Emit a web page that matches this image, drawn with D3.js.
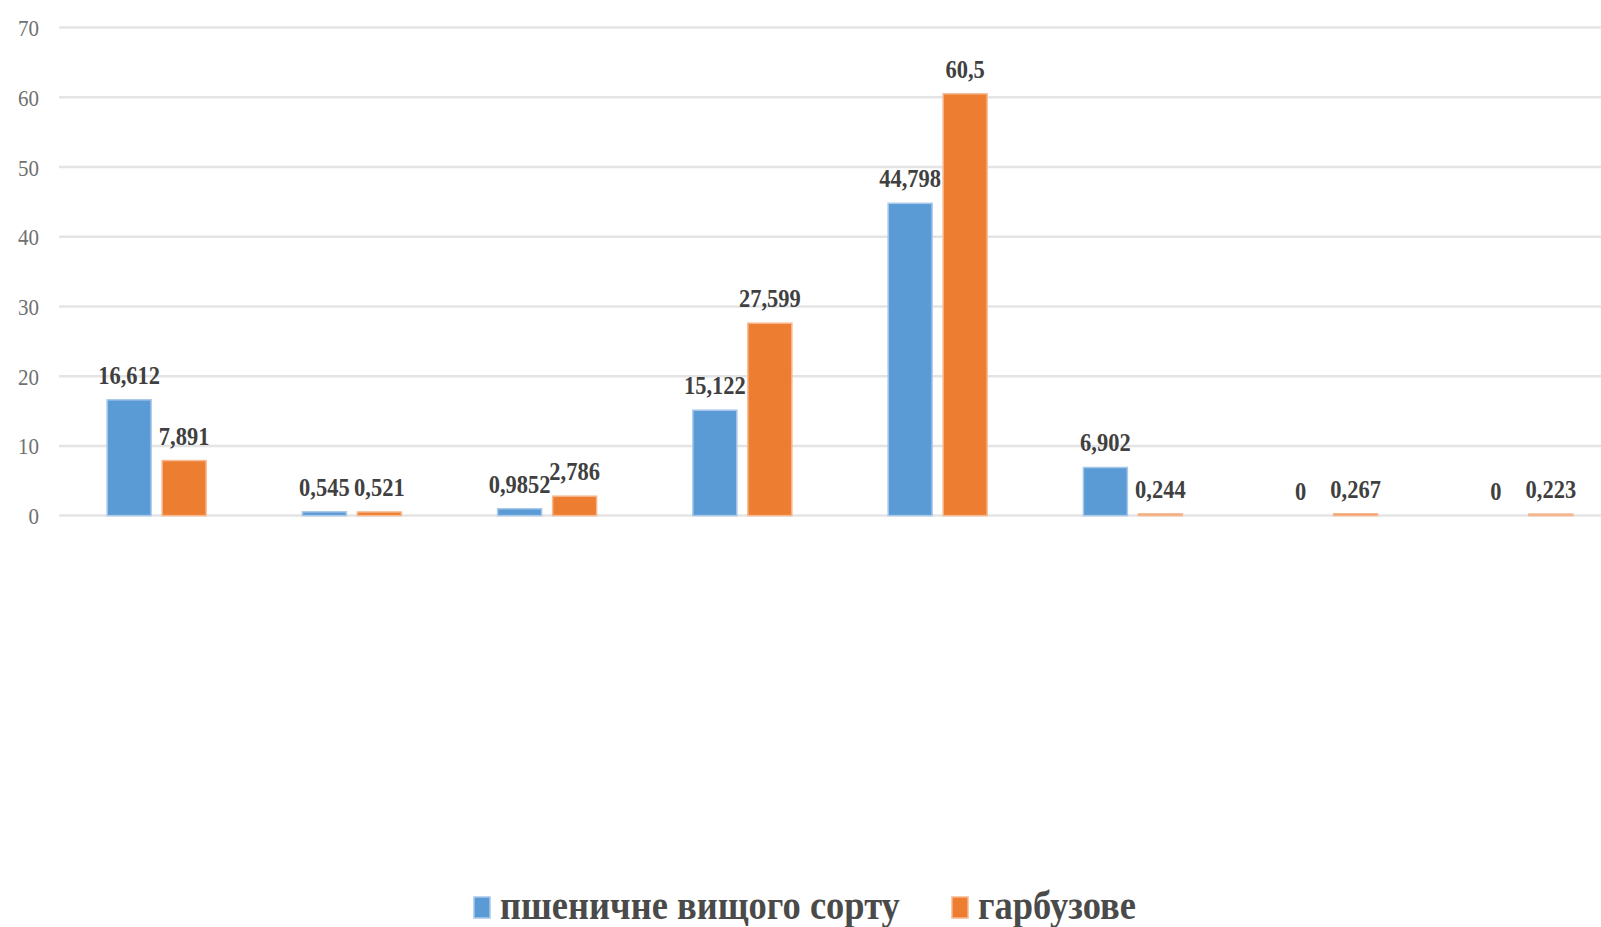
<!DOCTYPE html>
<html>
<head>
<meta charset="utf-8">
<script src="https://cdn.jsdelivr.net/npm/d3@7/dist/d3.min.js"></script>
<style>
  html, body { margin: 0; padding: 0; background: #fff; }
  svg { display: block; }
</style>
</head>
<body>
<svg id="chart" width="1601" height="927"></svg>
<script>
// Categories (unlabelled groups) and the two series
const categories = ["1", "2", "3", "4", "5", "6", "7", "8"];
const seriesNames = ["пшеничне вищого сорту", "гарбузове"];
const wheatValues = [16.612, 0.545, 0.9852, 15.122, 44.798, 6.902, 0, 0];
const pumpkinValues = [7.891, 0.521, 2.786, 27.599, 60.5, 0.244, 0.267, 0.223];
const yTicks = [0, 10, 20, 30, 40, 50, 60, 70];

const colors = ["#5B9BD5", "#ED7D31"];
const edgeColors = ["#a8c8ea", "#f6b88f"];
const serif = "'Liberation Serif', 'Times New Roman', serif";
const stretch = 1.12; // tall, narrow glyphs

const svg = d3.select("#chart");
const W = 1601, H = 927;

// Plot area (the category band extends slightly past the right edge)
const plot = { left: 59, right: 1621, top: 27.6, bottom: 515.6 };

const x0 = d3.scaleBand()
  .domain(categories)
  .range([plot.left, plot.right])
  .paddingInner(0.493)
  .paddingOuter(0.2465);

const x1 = d3.scaleBand()
  .domain([0, 1])
  .range([0, x0.bandwidth()])
  .paddingInner(0.2);

const y = d3.scaleLinear().domain([0, 70]).range([plot.bottom, plot.top]);

// Gridlines
svg.append("g")
  .selectAll("line")
  .data(yTicks)
  .join("line")
  .attr("x1", plot.left)
  .attr("x2", W)
  .attr("y1", d => y(d))
  .attr("y2", d => y(d))
  .attr("stroke", "#e4e4e4")
  .attr("stroke-width", 2.5);

// Y axis labels
const yAxis = d3.axisLeft(y).tickValues(yTicks).tickSize(0).tickPadding(0);
const yAxisG = svg.append("g")
  .attr("transform", `translate(${plot.left - 20},0)`)
  .call(yAxis);
yAxisG.select(".domain").remove();
yAxisG.selectAll("text")
  .attr("font-family", serif)
  .attr("font-size", 21)
  .attr("fill", "#707070")
  .attr("dy", "0.34em")
  .attr("transform", `scale(1,${stretch})`);

// Bars
const rows = categories.map((c, i) => ({
  cat: c,
  vals: [wheatValues[i], pumpkinValues[i]]
}));

const groups = svg.append("g")
  .selectAll("g")
  .data(rows)
  .join("g")
  .attr("transform", d => `translate(${x0(d.cat)},0)`);

groups.selectAll("rect")
  .data(d => d.vals.map((v, s) => ({ v, s })))
  .join("rect")
  .filter(d => d.v > 0)
  .attr("x", d => x1(d.s))
  .attr("y", d => y(d.v))
  .attr("width", x1.bandwidth())
  .attr("height", d => y(0) - y(d.v))
  .attr("fill", d => colors[d.s])
  .attr("stroke", d => edgeColors[d.s])
  .attr("stroke-width", 1.5);

// Value labels
const fmt = v => String(v).replace(".", ",");
groups.selectAll("text")
  .data(d => d.vals.map((v, s) => ({ v, s })))
  .join("text")
  .attr("transform", d =>
    `translate(${x1(d.s) + x1.bandwidth() / 2},${y(d.v) - 16}) scale(1,${stretch})`)
  .attr("text-anchor", "middle")
  .attr("font-family", serif)
  .attr("font-weight", "bold")
  .attr("font-size", 22.5)
  .attr("fill", "#404040")
  .text(d => fmt(d.v));

// Legend
const legendItems = [
  { name: seriesNames[0], color: colors[0], edge: edgeColors[0], x: 474 },
  { name: seriesNames[1], color: colors[1], edge: edgeColors[1], x: 952 }
];
const legend = svg.append("g");
legendItems.forEach(item => {
  legend.append("rect")
    .attr("x", item.x)
    .attr("y", 897)
    .attr("width", 16)
    .attr("height", 21)
    .attr("fill", item.color)
    .attr("stroke", item.edge)
    .attr("stroke-width", 1.5);
  legend.append("text")
    .attr("transform", `translate(${item.x + 26},919) scale(1,${stretch})`)
    .attr("font-family", serif)
    .attr("font-weight", "bold")
    .attr("font-size", 36.5)
    .attr("fill", "#4a4a4a")
    .text(item.name);
});
</script>
</body>
</html>
